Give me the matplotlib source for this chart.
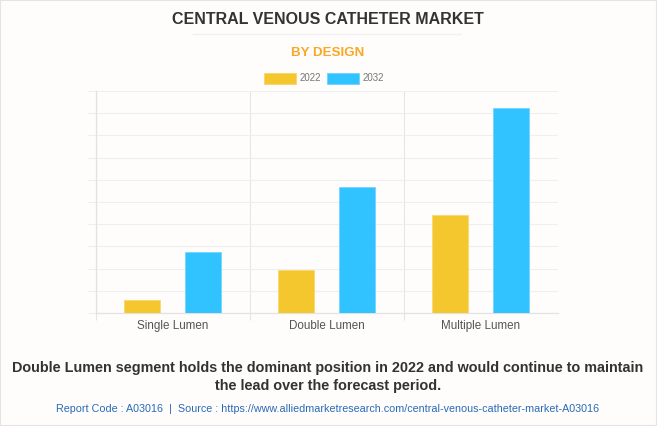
import matplotlib
matplotlib.use('Agg')
import matplotlib.pyplot as plt
import numpy as np
from matplotlib.lines import Line2D
from matplotlib.patches import Rectangle

categories = ['Single Lumen', 'Double Lumen', 'Multiple Lumen']
years = ['2022', '2032']
values_2022 = [0.58, 1.94, 4.41]
values_2032 = [2.75, 5.68, 9.23]

W, H = 657, 426
plt.rcParams['font.family'] = ['Liberation Sans', 'DejaVu Sans']

fig = plt.figure(figsize=(W / 100, H / 100), dpi=100, facecolor='#fefdfc')
ax = fig.add_axes([96 / W, 1 - 313 / H, 462 / W, 222 / H], facecolor='#fefdfc')

x = np.arange(len(categories))
bar_w = 0.235
ax.bar(x - 0.2, values_2022, bar_w, color='#f4c72f', edgecolor='#f8d667', linewidth=0.5, zorder=3)
ax.bar(x + 0.197, values_2032, bar_w, color='#31c3ff', edgecolor='#6ad4ff', linewidth=0.5, zorder=3)

ax.set_xlim(-0.5, 2.5)
ax.set_ylim(0, 10)
ax.set_yticks(np.arange(0, 11))
ax.set_yticklabels([])
ax.set_xticks([-0.5, 0.5, 1.5], minor=False)
ax.set_xticklabels([])
ax.set_xticks(x, minor=True)
ax.set_xticklabels(categories, minor=True, fontsize=8.4, color='#555555')
ax.tick_params(axis='x', which='major', length=5, color='#e4e4e4', width=0.75)
ax.tick_params(axis='x', which='minor', length=0, pad=5)
ax.tick_params(axis='y', length=5.8, color='#eeeeee', width=0.75)
ax.grid(True, which='major', axis='y', color='#efefef', linewidth=0.75, zorder=0)
ax.grid(True, which='major', axis='x', color='#e6e6e6', linewidth=0.75, zorder=0)
for name, spine in ax.spines.items():
    spine.set_visible(name in ('left', 'bottom'))
    spine.set_color('#e2e2e2')
    spine.set_linewidth(0.9)


def put_text(px, py, s, **kw):
    fig.text(px / W, 1 - py / H, s, ha='center', va='center', **kw)


put_text(328, 20, 'CENTRAL VENOUS CATHETER MARKET', fontsize=11.5, fontweight='bold', color='#333333')
fig.add_artist(Line2D([193 / W, 461 / W], [1 - 33.5 / H] * 2, color='#f0f0f0', linewidth=1))
put_text(327.5, 53, 'BY DESIGN', fontsize=9.6, fontweight='bold', color='#f9a825')

# legend
fig.add_artist(Rectangle((264 / W, 1 - 84 / H), 32 / W, 11 / H, transform=fig.transFigure,
                         facecolor='#f4c72f', edgecolor='#f8d667', linewidth=0.6))
fig.add_artist(Rectangle((327 / W, 1 - 84 / H), 32 / W, 11 / H, transform=fig.transFigure,
                         facecolor='#31c3ff', edgecolor='#6ad4ff', linewidth=0.6))
put_text(310.5, 78, years[0], fontsize=7, color='#777777')
put_text(373.5, 78, years[1], fontsize=7, color='#777777')

put_text(328, 368, 'Double Lumen segment holds the dominant position in 2022 and would continue to maintain',
         fontsize=10.35, fontweight='bold', color='#333333')
put_text(328, 386, 'the lead over the forecast period.', fontsize=10.35, fontweight='bold', color='#333333')
put_text(328, 409, 'Report Code : A03016  |  Source : https://www.alliedmarketresearch.com/central-venous-catheter-market-A03016',
         fontsize=7.75, color='#2a6ab5')

# thin frame around the picture
fig.add_artist(Rectangle((0, 0), 1, 1, transform=fig.transFigure, fill=False, edgecolor='#e4e4e4', linewidth=1.5))

fig.savefig('out.png', dpi=100, facecolor=fig.get_facecolor())
